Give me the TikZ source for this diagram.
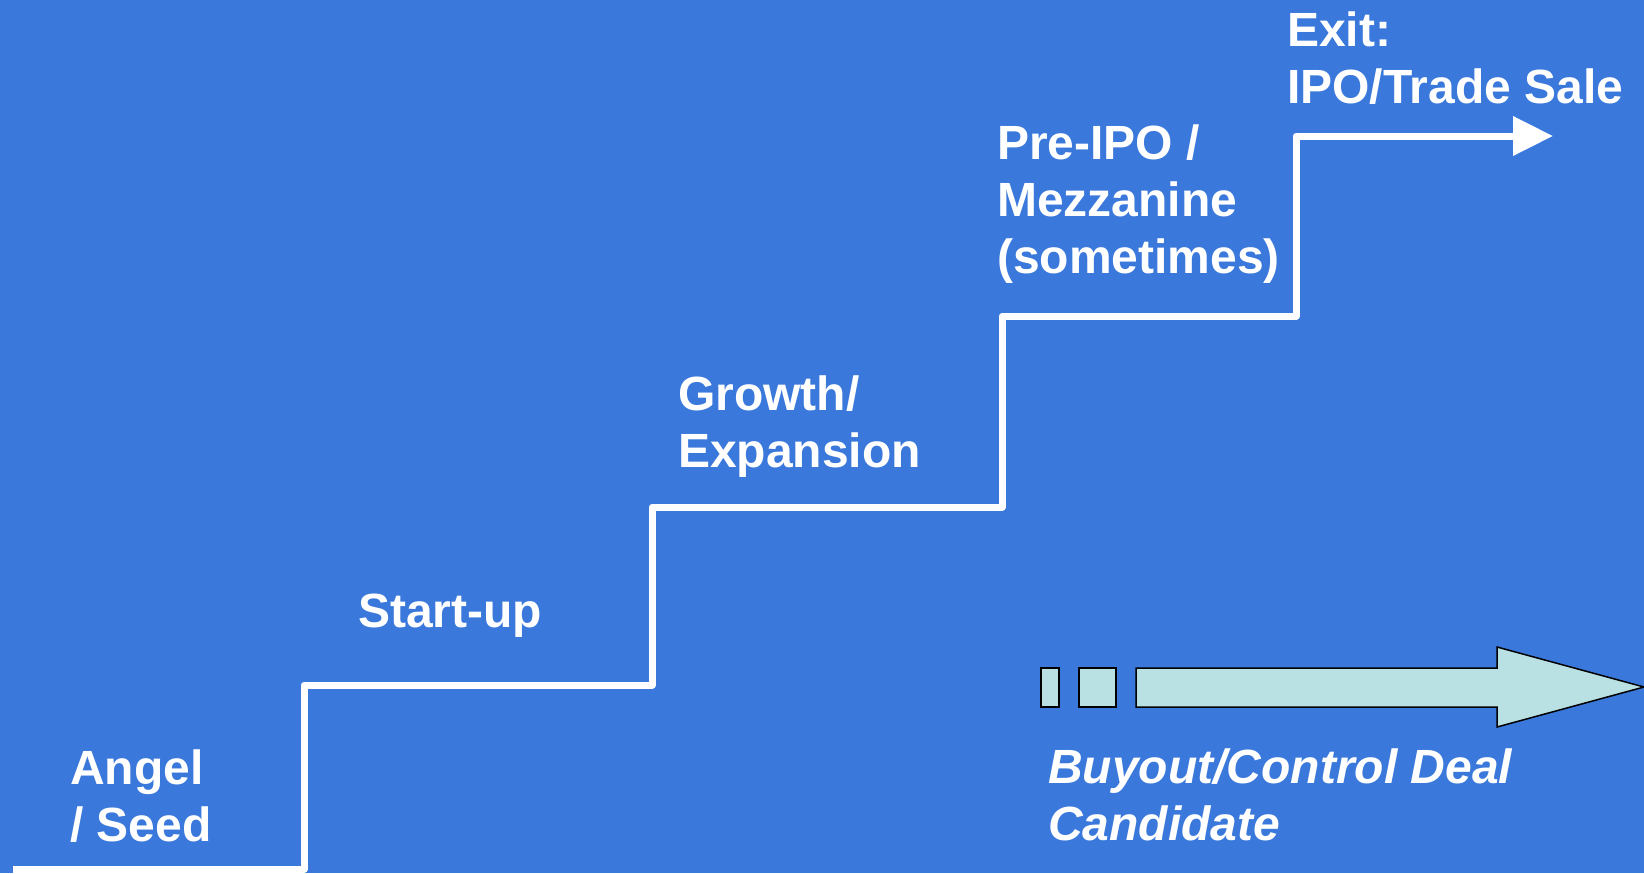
\documentclass[tikz,border=0pt]{standalone}
\usepackage{fontspec}
\setmainfont{Liberation Sans}
\usetikzlibrary{arrows.meta}
\definecolor{slideblue}{RGB}{58,121,219}
\definecolor{paleteal}{RGB}{185,224,226}
\tikzset{
  stage/.style={anchor=base west,inner sep=0pt,align=left,text=white,
    font=\fontsize{48}{57}\selectfont\bfseries},
  buyout/.style={stage,font=\fontsize{48}{57}\selectfont\bfseries\itshape},
  stair/.style={white,line width=7pt,line join=round},
  block/.style={draw=black,fill=paleteal,line width=1.5pt}
}
\begin{document}
\begin{tikzpicture}[x=1pt,y=-1pt]
 % background
 \fill[slideblue] (0,0) rectangle (1644,873);
 \useasboundingbox (0,0) rectangle (1644,873);

 % corners of the stairs
 \coordinate (s0) at (13,869);
 \coordinate (s1) at (304,869);
 \coordinate (s2) at (304,685);
 \coordinate (s3) at (652,685);
 \coordinate (s4) at (652,507);
 \coordinate (s5) at (1002,507);
 \coordinate (s6) at (1002,316);
 \coordinate (s7) at (1296,316);
 \coordinate (s8) at (1296,136);
 \coordinate (tip) at (1553,136);

 % the staircase with its arrow
 \draw[stair,-{Triangle[length=40pt,width=38pt]}]
   (s0) -- (s1) -- (s2) -- (s3) -- (s4) -- (s5) -- (s6) -- (s7) -- (s8) -- (tip);

 % stage labels (placed at the baseline of their last line)
 \node[stage] (angel)  at (70,841)   {Angel\\/ Seed};
 \node[stage] (start)  at (358,627)  {Start-up};
 \node[stage] (growth) at (678,467)  {Growth/\\Expansion};
 \node[stage] (preipo) at (997,273)  {Pre-IPO /\\Mezzanine\\(sometimes)};
 \node[stage] (exit)   at (1287,103) {Exit:\\IPO/Trade Sale};

 % buyout arrow
 \draw[block] (1041,668) rectangle (1059,707);
 \draw[block] (1079,668) rectangle (1116,707);
 \draw[block,line join=miter] (1136,668) -- (1497,668) -- (1497,647) -- (1644,687)
   -- (1497,727) -- (1497,707) -- (1136,707) -- cycle;

 \node[buyout] (deal) at (1048,840) {Buyout/Control Deal\\Candidate};
\end{tikzpicture}
\end{document}
